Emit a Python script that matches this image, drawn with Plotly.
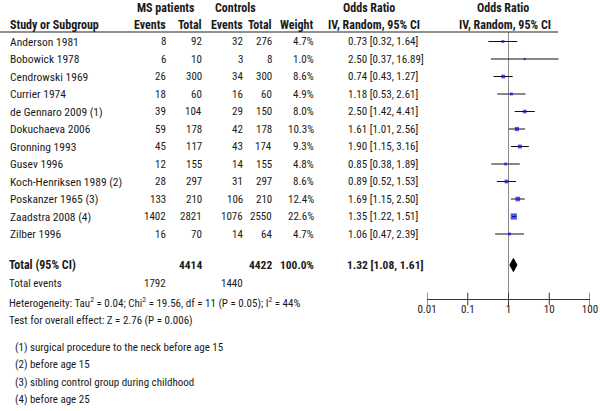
import plotly.graph_objects as go
import math

# ---------------- data ----------------
studies = ["Anderson 1981", "Bobowick 1978", "Cendrowski 1969", "Currier 1974",
           "de Gennaro 2009 (1)", "Dokuchaeva 2006", "Gronning 1993", "Gusev 1996",
           "Koch-Henriksen 1989 (2)", "Poskanzer 1965 (3)", "Zaadstra 2008 (4)", "Zilber 1996"]
ms_events = [8, 6, 26, 18, 39, 59, 45, 12, 28, 133, 1402, 16]
ms_total = [92, 10, 300, 60, 104, 178, 117, 155, 297, 210, 2821, 70]
ctrl_events = [32, 3, 34, 16, 29, 42, 43, 14, 31, 106, 1076, 14]
ctrl_total = [276, 8, 300, 60, 150, 178, 174, 155, 297, 210, 2550, 64]
weights = [4.7, 1.0, 8.6, 4.9, 8.0, 10.3, 9.3, 4.8, 8.6, 12.4, 22.6, 4.7]
or_est = [0.73, 2.50, 0.74, 1.18, 2.50, 1.61, 1.90, 0.85, 0.89, 1.69, 1.35, 1.06]
ci_lo = [0.32, 0.37, 0.43, 0.53, 1.42, 1.01, 1.15, 0.38, 0.52, 1.15, 1.22, 0.47]
ci_hi = [1.64, 16.89, 1.27, 2.61, 4.41, 2.56, 3.16, 1.89, 1.53, 2.50, 1.51, 2.39]

total_ms_n = 4414
total_ctrl_n = 4422
total_weight = 100.0
total_or = 1.32
total_lo = 1.08
total_hi = 1.61
total_ms_events = 1792
total_ctrl_events = 1440

heterogeneity = "Heterogeneity: Tau<sup>2</sup> = 0.04; Chi<sup>2</sup> = 19.56, df = 11 (P = 0.05); I<sup>2</sup> = 44%"
overall_test = "Test for overall effect: Z = 2.76 (P = 0.006)"
footnotes = ["(1) surgical procedure to the neck before age 15",
             "(2) before age 15",
             "(3) sibling control group during childhood",
             "(4) before age 25"]
tick_vals = [0.01, 0.1, 1, 10, 100]
tick_text = ["0.01", "0.1", "1", "10", "100"]

# ---------------- layout constants ----------------
W, H = 600, 411
ROW0, ROWSTEP = 41.5, 17.5
Y_TOTAL = 265
Y_AXIS = 299
Y_HEADLINE = 32
FONT = "Roboto Condensed, Liberation Sans Narrow, Roboto, sans-serif"
TXT = "#1a1a1a"

row_y = [ROW0 + ROWSTEP * i for i in range(len(studies))]

fig = go.Figure()

# vertical line at OR = 1
fig.add_trace(go.Scatter(x=[1, 1], y=[Y_HEADLINE, Y_AXIS], mode="lines",
                         line=dict(color="#8a8a8a", width=1), hoverinfo="skip"))

# CI lines
xs, ys = [], []
for lo, hi, y in zip(ci_lo, ci_hi, row_y):
    xs += [lo, hi, None]
    ys += [y, y, None]
fig.add_trace(go.Scatter(x=xs, y=ys, mode="lines",
                         line=dict(color="#111111", width=1), hoverinfo="skip"))

# squares sized by weight
sizes = [max(2.2, 1.3 * math.sqrt(w)) for w in weights]
fig.add_trace(go.Scatter(x=or_est, y=row_y, mode="markers",
                         marker=dict(symbol="square", size=sizes, color="#0b0bd8",
                                     line=dict(width=0)), hoverinfo="skip"))

# diamond for pooled estimate
fig.add_trace(go.Scatter(x=[total_lo, total_or, total_hi, total_or, total_lo],
                         y=[Y_TOTAL, Y_TOTAL - 6.5, Y_TOTAL, Y_TOTAL + 6.5, Y_TOTAL],
                         mode="lines", fill="toself", fillcolor="#000000",
                         line=dict(color="#000000", width=1), hoverinfo="skip"))

# tick marks crossing the axis line
fig.add_trace(go.Scatter(x=tick_vals, y=[Y_AXIS] * len(tick_vals), mode="markers",
                         marker=dict(symbol="line-ns", size=9,
                                     line=dict(color="#333333", width=1)),
                         hoverinfo="skip"))

ann = []


def T(x, y, text, anchor="left", bold=False, size=11):
    ann.append(dict(x=x / W, y=y, xref="paper", yref="y", text=text,
                    xanchor=anchor, yanchor="middle", showarrow=False,
                    font=dict(family=FONT, size=size, color=TXT,
                              weight="bold" if bold else "normal")))


HB = 12  # header bold size
# headers
T(166, 8, "MS patients", "center", True, HB)
T(235, 8, "Controls", "center", True, HB)
T(369, 8, "Odds Ratio", "center", True, HB)
T(503, 8, "Odds Ratio", "center", True, HB)
T(8, 25, "Study or Subgroup", "left", True, HB)
T(168, 25, "Events", "right", True, HB)
T(204, 25, "Total", "right", True, HB)
T(245, 25, "Events", "right", True, HB)
T(274, 25, "Total", "right", True, HB)
T(316, 25, "Weight", "right", True, HB)
T(374, 25, "IV, Random, 95% CI", "center", True, HB)
T(505, 25, "IV, Random, 95% CI", "center", True, HB)

NS = 11  # number size
for i, y in enumerate(row_y):
    T(8, y, studies[i], "left", False, 11.5)
    T(168, y, str(ms_events[i]), "right", False, NS)
    T(204, y, str(ms_total[i]), "right", False, NS)
    T(245, y, str(ctrl_events[i]), "right", False, NS)
    T(274, y, str(ctrl_total[i]), "right", False, NS)
    T(316, y, f"{weights[i]:.1f}%", "right", False, NS)
    T(346, y, f"{or_est[i]:.2f} [{ci_lo[i]:.2f}, {ci_hi[i]:.2f}]", "left", False, NS)

# total row
T(7, Y_TOTAL, "Total (95% CI)", "left", True, HB)
T(204, Y_TOTAL, str(total_ms_n), "right", True, 11.5)
T(274, Y_TOTAL, str(total_ctrl_n), "right", True, 11.5)
T(316, Y_TOTAL, f"{total_weight:.1f}%", "right", True, 11.5)
T(345, Y_TOTAL, f"{total_or:.2f} [{total_lo:.2f}, {total_hi:.2f}]", "left", True, 11.5)

T(7, 283, "Total events", "left", False, 11)
T(168, 283, str(total_ms_events), "right", False, NS)
T(245, 283, str(total_ctrl_events), "right", False, NS)
T(7, 302, heterogeneity, "left", False, 11)
T(7, 320, overall_test, "left", False, 11)
for j, fn in enumerate(footnotes):
    T(13, 347 + 17.5 * j, fn, "left", False, 11)

fig.update_layout(
    width=W, height=H,
    margin=dict(l=0, r=0, t=0, b=0, autoexpand=False),
    paper_bgcolor="white", plot_bgcolor="white",
    showlegend=False,
    annotations=ann,
    shapes=[dict(type="line", xref="paper", yref="y", x0=0, x1=558 / W,
                 y0=Y_HEADLINE, y1=Y_HEADLINE, line=dict(color="#222222", width=1))],
    xaxis=dict(type="log", range=[-2, 2], domain=[427 / W, 590 / W],
               anchor="free", position=(H - Y_AXIS) / H, automargin=False,
               showline=True, linecolor="#333333", linewidth=1,
               showgrid=False, zeroline=False, ticks="",
               tickvals=tick_vals, ticktext=tick_text,
               tickfont=dict(family=FONT, size=11, color=TXT)),
    yaxis=dict(range=[H, 0], domain=[0, 1], visible=False, showgrid=False,
               automargin=False),
)

fig.write_html("out.html", config={"displayModeBar": False},
               post_script="document.body.style.margin='0';document.body.style.overflow='hidden';")
